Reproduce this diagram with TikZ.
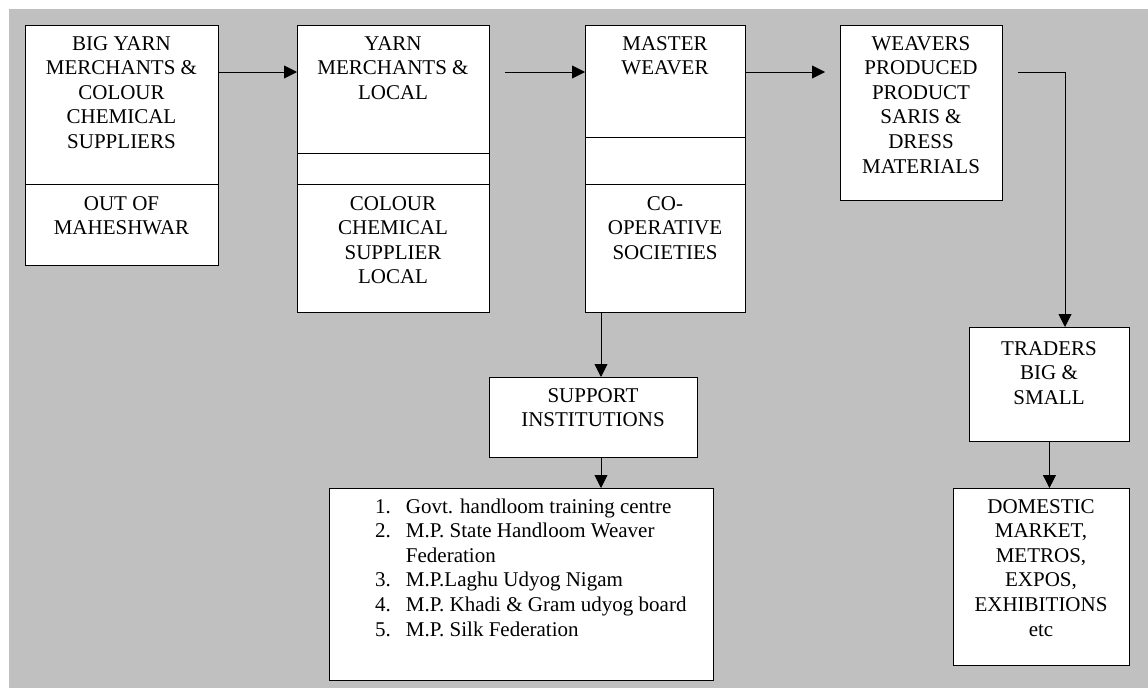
\documentclass[tikz,border=0pt]{standalone}
\usepackage{fontspec}
\setmainfont{Liberation Serif}
\usetikzlibrary{arrows.meta}
\definecolor{bg}{HTML}{C0C0C0}
\tikzset{
  box/.style={draw=black, fill=white, line width=0.9pt, inner sep=0pt, anchor=north west},
  txt/.style={inner sep=0pt, anchor=base, font=\fontsize{21}{24.6}\selectfont},
  arr/.style={line width=0.9pt, -{Triangle[length=13pt,width=13pt]}},
}
\begin{document}
\begin{tikzpicture}[x=1pt,y=-1pt]
\fill[white] (0,0) rectangle (1148,688);
\useasboundingbox (0,0) rectangle (1148,688);
\fill[bg] (9,9) rectangle (1148,688);

% box 1
\node[box, minimum width=193pt, minimum height=159pt] (b1a) at (25,25) {};
\node[box, minimum width=193pt, minimum height=81pt] (b1b) at (25,184) {};
% box 2
\node[box, minimum width=192pt, minimum height=128pt] (b2a) at (297,25) {};
\node[box, minimum width=192pt, minimum height=31pt] (b2b) at (297,153) {};
\node[box, minimum width=192pt, minimum height=128pt] (b2c) at (297,184) {};
% box 3
\node[box, minimum width=160pt, minimum height=112pt] (b3a) at (585,25) {};
\node[box, minimum width=160pt, minimum height=47pt] (b3b) at (585,137) {};
\node[box, minimum width=160pt, minimum height=128pt] (b3c) at (585,184) {};
% box 4
\node[box, minimum width=162pt, minimum height=175pt] (b4) at (840,25) {};
% support
\node[box, minimum width=208pt, minimum height=80pt] (sup) at (489,377) {};
% list
\node[box, minimum width=384pt, minimum height=192pt] (lst) at (329,488) {};
% traders
\node[box, minimum width=160pt, minimum height=114pt] (tr) at (969,327) {};
% domestic
\node[box, minimum width=176pt, minimum height=177pt] (dom) at (953,488) {};

% texts
\node[txt] (t1a) at (121.5,50) {\begin{tabular}[t]{@{}c@{}}BIG YARN\\MERCHANTS \&\\COLOUR\\CHEMICAL\\SUPPLIERS\end{tabular}};
\node[txt] (t1b) at (121.5,210) {\begin{tabular}[t]{@{}c@{}}OUT OF\\MAHESHWAR\end{tabular}};
\node[txt] (t2a) at (393,50) {\begin{tabular}[t]{@{}c@{}}YARN\\MERCHANTS \&\\LOCAL\end{tabular}};
\node[txt] (t2c) at (393,210) {\begin{tabular}[t]{@{}c@{}}COLOUR\\CHEMICAL\\SUPPLIER\\LOCAL\end{tabular}};
\node[txt] (t3a) at (665,50) {\begin{tabular}[t]{@{}c@{}}MASTER\\WEAVER\end{tabular}};
\node[txt] (t3c) at (665,210) {\begin{tabular}[t]{@{}c@{}}CO-\\OPERATIVE\\SOCIETIES\end{tabular}};
\node[txt] (t4) at (921,50) {\begin{tabular}[t]{@{}c@{}}WEAVERS\\PRODUCED\\PRODUCT\\SARIS \&\\DRESS\\MATERIALS\end{tabular}};
\node[txt] (tsup) at (593,402) {\begin{tabular}[t]{@{}c@{}}SUPPORT\\INSTITUTIONS\end{tabular}};
\node[txt] (ttr) at (1049,355) {\begin{tabular}[t]{@{}c@{}}TRADERS\\BIG \&\\SMALL\end{tabular}};
\node[txt] (tdom) at (1041,513) {\begin{tabular}[t]{@{}c@{}}DOMESTIC\\MARKET,\\METROS,\\EXPOS,\\EXHIBITIONS\\etc\end{tabular}};
\node[txt, anchor=base west] (tlst) at (375,513) {\begin{tabular}[t]{@{}l@{\hspace{15pt}}l@{}}1.&Govt. handloom training centre\\2.&M.P. State Handloom Weaver\\&Federation\\3.&M.P.Laghu Udyog Nigam\\4.&M.P. Khadi \& Gram udyog board\\5.&M.P. Silk Federation\end{tabular}};

% connectors
\coordinate (ry) at (0,72);
\coordinate (tx) at (1065,0);
\coordinate (sx) at (601,0);
\draw[arr] (b1a.east |- ry) -- (b2a.west |- ry);
\draw[arr, shorten <=15pt] (b2a.east |- ry) -- (b3a.west |- ry);
\draw[arr, shorten >=15pt] (b3a.east |- ry) -- (b4.west |- ry);
\draw[arr, shorten <=15pt] (b4.east |- ry) -| (tr.north -| tx);
\draw[arr] (b3c.south -| sx) -- (sup.north -| sx);
\draw[arr] (sup.south -| sx) -- (lst.north -| sx);
\draw[arr] (tr.south) -- (tr.south |- dom.north);
\end{tikzpicture}
\end{document}
